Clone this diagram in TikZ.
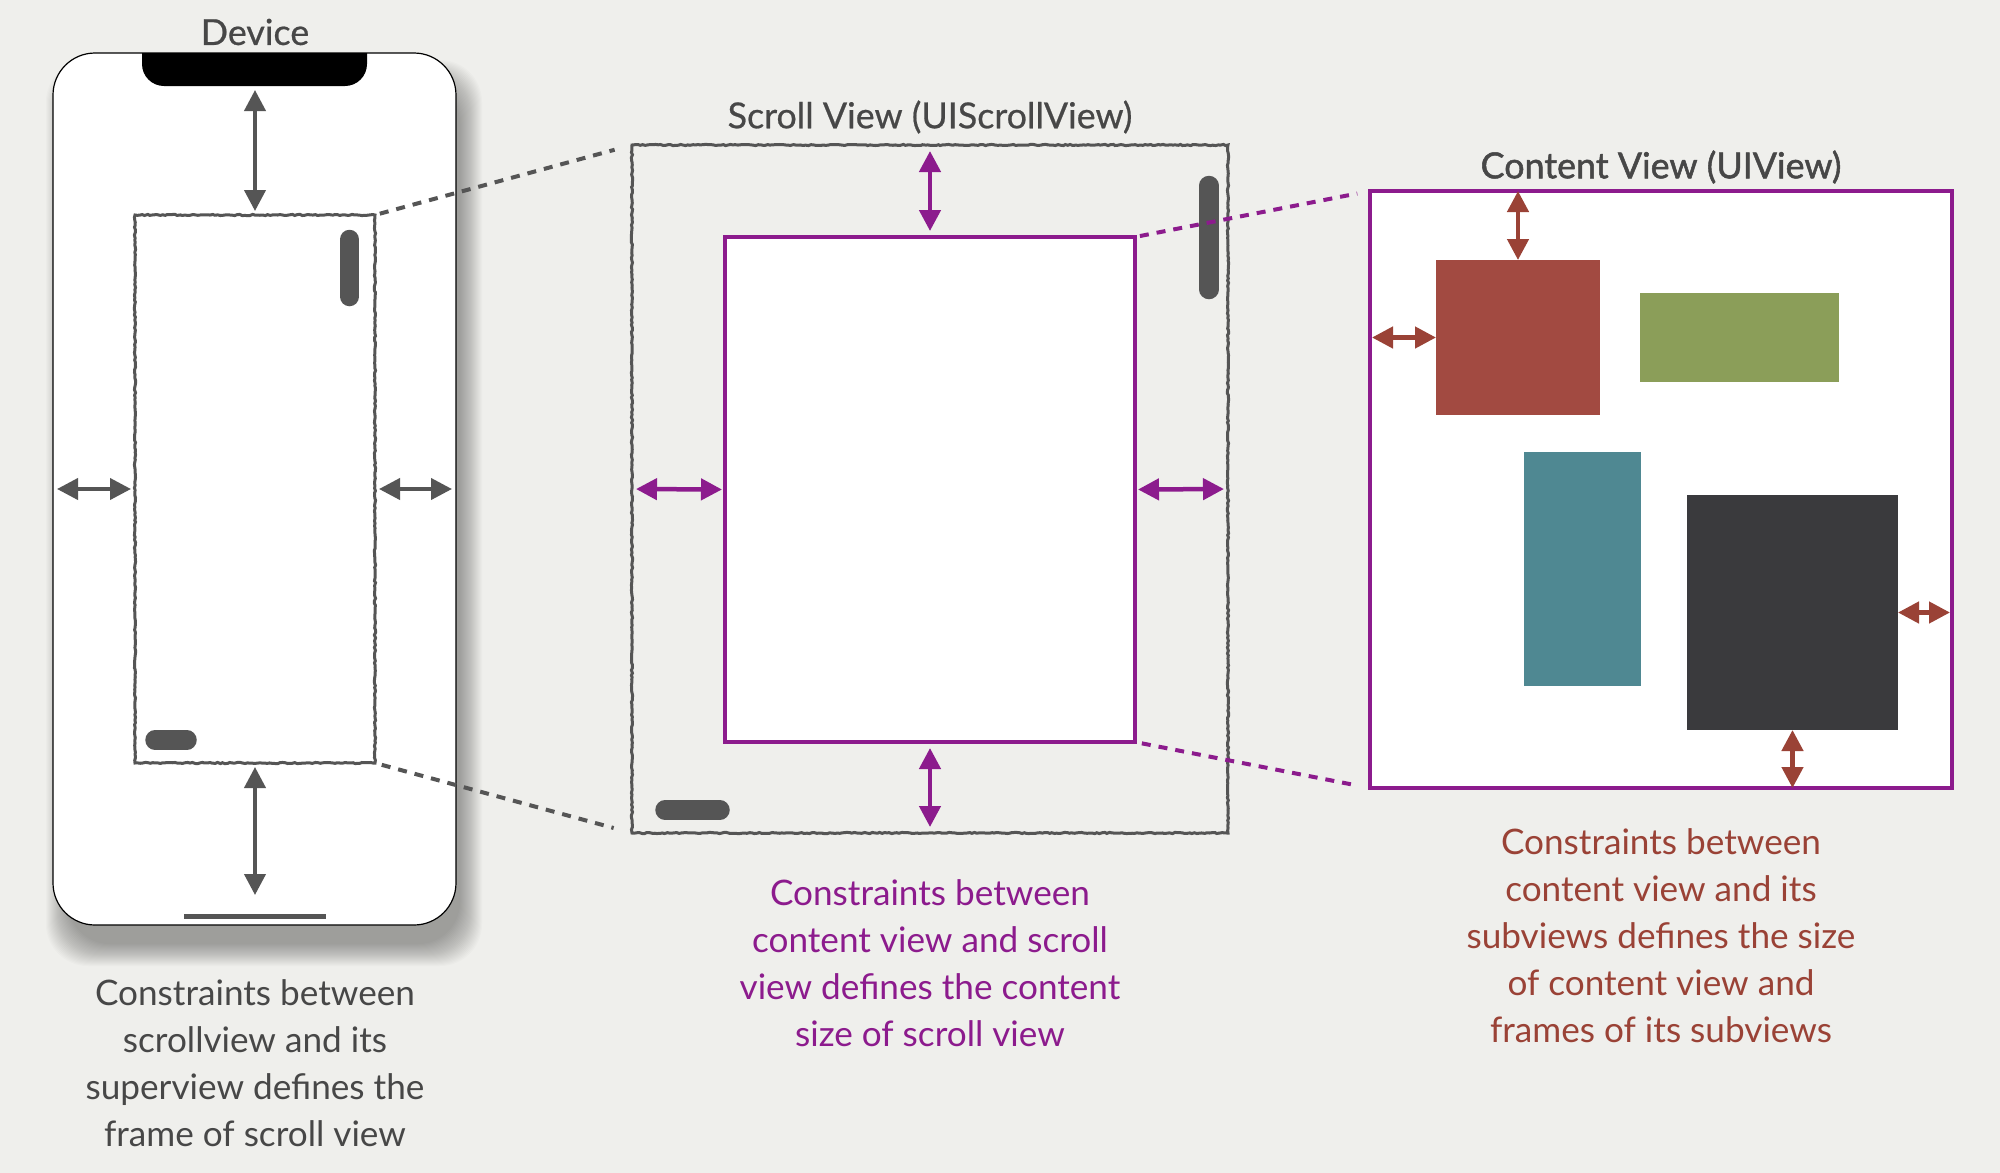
\documentclass[tikz,border=0pt]{standalone}
\usepackage{fontspec}
\setmainfont{Lato}
\newfontfamily\midtitle[FakeBold=0.6]{Lato}
\newfontfamily\heavytitle[FakeBold=1.4]{Lato}
\usetikzlibrary{arrows.meta,decorations.pathmorphing}
\definecolor{paper}{HTML}{EFEFEC}
\definecolor{devgray}{HTML}{555555}
\definecolor{titlegray}{HTML}{474747}
\definecolor{viewpurple}{HTML}{8C1B8D}
\definecolor{rust}{HTML}{9A4236}
\definecolor{redbox}{HTML}{A24A41}
\definecolor{greenbox}{HTML}{8B9E59}
\definecolor{tealbox}{HTML}{4F8892}
\definecolor{darkbox}{HTML}{3A3A3D}
\tikzset{
  box/.style={inner sep=0pt, outer sep=0pt},
  phonebody/.style={box, draw=black, fill=white, line width=0.12mm, rounded corners=4.2mm,
    minimum width=40.3mm, minimum height=87.2mm},
  sketch/.style={box, draw=devgray, line width=0.3mm, decorate,
    decoration={random steps, segment length=0.25mm, amplitude=0.06mm}},
  cbox/.style={box, draw=viewpurple, fill=white, line width=0.4mm},
  sub/.style={box, minimum width=#1},
  bar/.style={draw=devgray, line width=1.95mm, line cap=round},
  homebar/.style={draw=devgray, line width=0.5mm},
  garrow/.style={<->, draw=devgray, line width=0.4mm, shorten <=0.4mm, shorten >=0.4mm},
  parrow/.style={<->, draw=viewpurple, line width=0.45mm, shorten <=0.6mm, shorten >=0.6mm},
  rarrow/.style={<->, draw=rust, line width=0.45mm},
  gdash/.style={draw=devgray, line width=0.4mm, dash pattern=on 0.9mm off 0.8mm},
  pdash/.style={draw=viewpurple, line width=0.4mm, dash pattern=on 0.9mm off 0.8mm},
  title/.style={font=\fontsize{10.2}{11}\midtitle, text=titlegray},
  note/.style={align=center, font=\fontsize{10}{13.4}\selectfont}
}
\begin{document}
\begin{tikzpicture}[x=0.1mm, y=-0.1mm, >={Triangle[length=2.1mm,width=2.1mm]}]
\pgfmathsetseed{7}
\fill[paper] (0,0) rectangle (2000,1173);
\useasboundingbox (0,0) rectangle (2000,1173);

% device
\node[title] (devtitle) at (255,32) {Device};
\foreach \s in {0,1,...,22}
  \fill[black, opacity=0.014, rounded corners=4.2mm] (68-\s,82-\s) rectangle (460+\s,944+\s);
\node[phonebody] (phone) at (254.5,489) {};
\begin{scope}
  \clip[rounded corners=4.2mm] (53,53) rectangle (456,925);
  \fill[black, rounded corners=2.2mm] (142,20) rectangle (367,86);
\end{scope}
\coordinate (notch) at (255,86);
\coordinate (home) at (255,916);
\node[sketch, fill=white, minimum width=24mm, minimum height=54.8mm] (frame) at (255,489) {};
\draw[bar] (349.5,239.5) -- (349.5,296.5);
\draw[bar] (155,740) -- (187,740);
\draw[homebar] (184,916) -- (326,916);
\draw[garrow] (notch) -- (frame.north);
\draw[garrow, shorten >=2.1mm] (frame.south) -- (home);
\draw[garrow] (phone.west) -- (frame.west);
\draw[garrow] (frame.east) -- (phone.east);

% scroll view
\node[title] (scrolltitle) at (930,117) {Scroll View (UIScrollView)};
\node[sketch, minimum width=59.6mm, minimum height=68.8mm] (scroll) at (930,489) {};
\draw[gdash, shorten <=0.5mm, shorten >=1.8mm] (frame.north east) -- (scroll.north west);
\draw[gdash, shorten <=0.7mm, shorten >=1.9mm] (frame.south east) -- (scroll.south west);
\draw[bar] (1209,185.5) -- (1209,289.5);
\draw[bar] (665,810) -- (720,810);
\node[cbox, minimum width=41mm, minimum height=50.5mm] (content) at (930,489.5) {};
\draw[parrow] (scroll.north) -- (content.north);
\draw[parrow] (content.south) -- (scroll.south);
\draw[parrow, shorten <=0.4mm, shorten >=0.3mm] (scroll.west) -- (content.west);
\draw[parrow, shorten <=0.3mm, shorten >=0.4mm] (content.east) -- (scroll.east);

% content view
\node[title, font=\fontsize{10.2}{11}\heavytitle] (cvtitle) at (1661,167) {Content View (UIView)};
\node[cbox, line width=0.35mm, minimum width=58.2mm, minimum height=59.7mm] (cv) at (1661,489.5) {};
\draw[pdash, shorten <=0.5mm, shorten >=1.3mm] (content.north east) -- (cv.north west);
\draw[pdash, shorten <=0.7mm, shorten >=1.3mm] (content.south east) -- (cv.south west);
\node[sub=16.4mm, fill=redbox, minimum height=15.5mm] (red) at (1518,337.5) {};
\node[sub=19.9mm, fill=greenbox, minimum height=8.9mm] (green) at (1739.5,337.5) {};
\node[sub=11.7mm, fill=tealbox, minimum height=23.4mm] (teal) at (1582.5,569) {};
\node[sub=21.1mm, fill=darkbox, minimum height=23.5mm] (dark) at (1792.5,612.5) {};
\draw[rarrow] (red.north |- cv.north) -- (red.north);
\draw[rarrow, shorten <=0.2mm] (cv.west |- red.west) -- (red.west);
\draw[rarrow, shorten >=0.2mm] (dark.east) -- (dark.east -| cv.east);
\draw[rarrow] (dark.south) -- (dark.south |- cv.south);

% notes
\node[note, text=titlegray] (devnote) at (255,1063) {Constraints between\\scrollview and its\\superview defines the\\frame of scroll view};
\node[note, text=viewpurple] (scrollnote) at (930,963) {Constraints between\\content view and scroll\\view defines the content\\size of scroll view};
\node[note, text=rust] (cvnote) at (1661,935.5) {Constraints between\\content view and its\\subviews defines the size\\of content view and\\frames of its subviews};
\end{tikzpicture}
\end{document}
